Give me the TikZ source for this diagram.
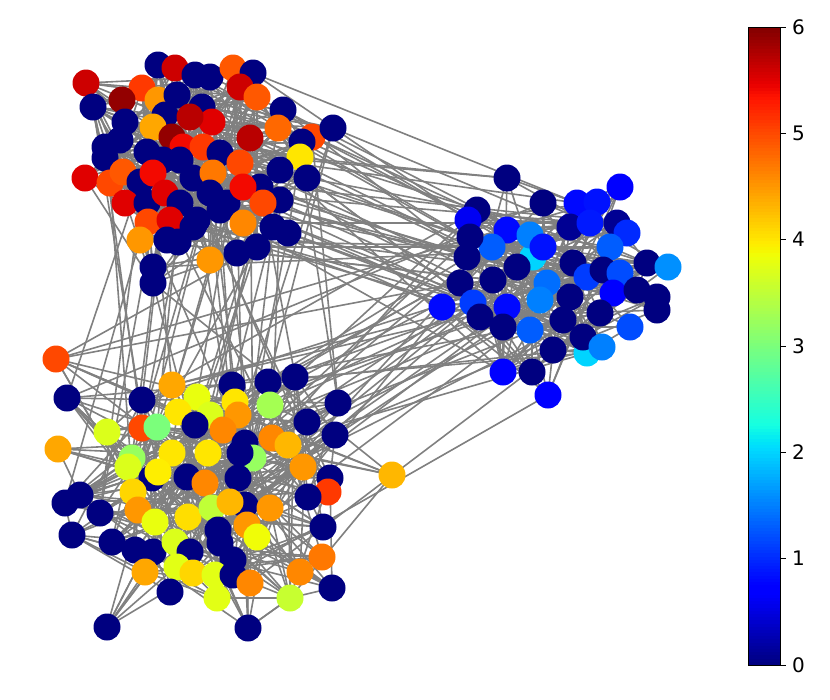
\documentclass[tikz,border=0pt]{standalone}
\usepackage{fontspec}
\setmainfont{DejaVu Sans}
\pgfdeclarelayer{bg}
\pgfsetlayers{bg,main}
\definecolor{edgegray}{RGB}{128,128,128}
\tikzset{
 vtx/.style={circle, inner sep=0pt, minimum size=27pt, fill=#1, draw=none},
 edge/.style={draw=edgegray, line width=1.6pt},
 tickmark/.style={line width=0.8pt},
 ticklabel/.style={anchor=west, font=\fontsize{20}{24}\selectfont, inner sep=0pt}
}
\newcommand\jetcolor[2]{%
 \pgfmathsetmacro\jx{#2}%
 \pgfmathsetmacro\jr{max(0,min(1,min((\jx-0.35)/0.31,1-0.5*max(0,\jx-0.89)/0.11)))}%
 \pgfmathsetmacro\jg{max(0,min(1,min((\jx-0.125)/0.25,1-(\jx-0.64)/0.27)))}%
 \pgfmathsetmacro\jb{max(0,min(1,min(0.5+\jx/0.22,1-(\jx-0.34)/0.31)))}%
 \definecolor{#1}{rgb}{\jr,\jg,\jb}}
\begin{document}
\begin{tikzpicture}[x=1pt,y=-1pt]
\useasboundingbox (0,0) rectangle (830,699);
% cluster A (1..73)
\foreach \x/\y/\v [count=\i] in {86/83/5.6, 93/107/0, 158/65/0, 175/68/5.6, 142/88/5.1, 122/100/5.9, 158/100/4.5, 195/75/0, 210/77/0, 233/68/4.9, 253/73/0, 240/87/5.6, 257/97/4.9, 177/95/0, 202/107/0, 165/115/0, 125/122/0, 212/122/5.5, 190/117/5.7, 283/110/0, 278/128/4.8, 153/127/4.4, 312/137/5.0, 333/128/0, 250/138/5.7, 302/142/0, 300/157/4.0, 105/147/0, 120/140/0, 105/158/0, 172/137/5.9, 183/147/5.4, 203/147/5.1, 220/153/0, 240/163/5.0, 147/152/0, 163/160/0, 180/160/0, 85/178/5.5, 110/183/5.0, 123/172/4.9, 140/182/0, 153/173/5.4, 193/178/0, 213/173/4.7, 210/193/0, 260/187/0, 280/170/0, 307/178/0, 280/200/0, 125/203/5.5, 147/203/0, 165/193/5.5, 180/203/0, 227/203/0, 243/187/5.4, 263/203/5.0, 148/222/5.0, 170/220/5.5, 197/220/0, 220/210/0, 243/223/4.6, 273/227/0, 288/233/0, 140/240/4.5, 167/240/0, 178/242/0, 193/227/0, 210/260/4.5, 237/253/0, 257/247/0, 153/267/0, 153/283/0}
{\jetcolor{nc}{\v/6}\node[vtx=nc] (n\i) at (\x,\y) {};}
% cluster B (74..124)
\foreach \x/\y/\v [count=\i from 74] in {533/257/2.0, 587/353/2.0, 507/178/0, 620/187/0.75, 543/203/0, 577/203/0.8, 597/202/0.85, 477/210/0, 468/220/0.6, 507/230/0.8, 530/235/1.5, 543/247/0.85, 570/227/0.1, 590/223/0.9, 617/223/0.1, 627/233/1.0, 610/247/1.3, 492/247/1.3, 470/237/0, 467/257/0, 517/267/0, 573/263/0, 647/263/0, 668/267/1.6, 587/277/1.1, 603/270/0, 620/273/1.2, 460/283/0, 493/280/0, 547/283/1.4, 540/300/1.5, 613/293/0.75, 637/290/0, 657/297/0, 657/310/0, 442/307/0.8, 473/303/1.1, 507/307/0.8, 570/297/0, 480/317/0, 503/327/0, 530/330/1.3, 563/320/0, 600/313/0, 630/327/1.2, 553/350/0, 583/337/0, 602/347/1.5, 503/372/0.75, 532/372/0, 548/395/0.75}
{\jetcolor{nc}{\v/6}\node[vtx=nc] (n\i) at (\x,\y) {};}
% cluster C (125..202)
\foreach \x/\y/\v [count=\i from 125] in {56/359/5.0, 67/398/0, 58/449/4.4, 107/432/3.7, 142/400/0, 172/385/4.4, 197/397/3.8, 232/385/0, 268/382/0, 295/377/0, 235/402/4.0, 270/405/3.3, 338/403/0, 178/412/4.0, 210/415/3.7, 238/415/4.5, 142/428/5.0, 157/427/3.0, 195/425/0, 223/430/4.6, 307/422/0, 335/435/0, 272/438/4.6, 288/445/4.3, 245/443/0, 132/458/3.2, 128/467/3.7, 172/453/4.0, 208/453/4.0, 253/458/3.2, 240/453/0, 152/478/0, 158/472/3.95, 187/477/0, 205/483/4.6, 303/467/4.5, 238/478/0, 330/478/0, 328/492/5.1, 308/497/0, 392/475/4.3, 65/503/0, 80/495/0, 100/513/0, 133/492/4.1, 138/510/4.5, 155/522/3.8, 188/517/4.05, 212/508/3.5, 245/505/0, 230/502/4.3, 270/508/4.5, 72/535/0, 112/542/0, 135/550/0, 153/552/0, 175/542/3.7, 190/552/0, 218/530/0, 220/543/0, 247/525/4.5, 257/537/3.85, 323/527/0, 233/560/0, 145/572/4.4, 177/567/3.75, 193/573/4.1, 215/575/3.75, 233/575/0, 250/583/4.6, 300/572/4.6, 322/557/4.7, 170/592/0, 217/598/3.75, 290/598/3.55, 332/588/0, 107/627/0, 248/628/0}
{\jetcolor{nc}{\v/6}\node[vtx=nc] (n\i) at (\x,\y) {};}
% edges
\pgfmathsetseed{7}
\begin{pgfonlayer}{bg}
\foreach \i in {1,...,73} {\foreach \k in {1,...,4} {\pgfmathtruncatemacro\j{random(1,73)}\draw[edge] (n\i.center) -- (n\j.center);}}
\foreach \i in {74,...,124} {\foreach \k in {1,...,4} {\pgfmathtruncatemacro\j{random(74,124)}\draw[edge] (n\i.center) -- (n\j.center);}}
\foreach \i in {125,...,202} {\foreach \k in {1,...,4} {\pgfmathtruncatemacro\j{random(125,202)}\draw[edge] (n\i.center) -- (n\j.center);}}
\foreach \k in {1,...,50} {\pgfmathtruncatemacro\ia{random(1,73)}\pgfmathtruncatemacro\ib{random(74,124)}\draw[edge] (n\ia.center) -- (n\ib.center);}
\foreach \k in {1,...,45} {\pgfmathtruncatemacro\ia{random(1,73)}\pgfmathtruncatemacro\ib{random(125,202)}\draw[edge] (n\ia.center) -- (n\ib.center);}
\foreach \k in {1,...,40} {\pgfmathtruncatemacro\ia{random(74,124)}\pgfmathtruncatemacro\ib{random(125,202)}\draw[edge] (n\ia.center) -- (n\ib.center);}
\end{pgfonlayer}
% colorbar
\foreach \s in {0,...,199} {\pgfmathsetmacro\t{(\s+0.5)/200}\jetcolor{bc}{\t}\fill[bc] (748,{665-\s*3.19}) rectangle (780,{max(27,665-(\s+1)*3.19-0.5)});}
\draw[line width=0.8pt] (748,27) rectangle (780,665);
\foreach \v in {0,...,6} {\draw[tickmark] (780,{665-\v*106.33}) -- (786,{665-\v*106.33});
 \node[ticklabel] (lab\v) at (792,{665-\v*106.33}) {\v};}
\end{tikzpicture}
\end{document}
